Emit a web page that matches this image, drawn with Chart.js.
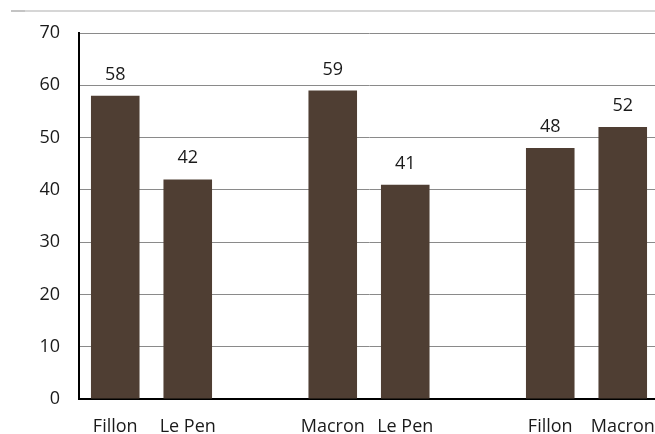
<!DOCTYPE html>
<html>
<head>
<meta charset="utf-8">
<script src="https://cdn.jsdelivr.net/npm/chart.js@4"></script>
<style>
    html, body { margin: 0; padding: 0; background: #fff; overflow: hidden; }
    #wrap { position: absolute; left: 0; top: 0; width: 700px; height: 434px; }
    .filet { position: absolute; top: 10px; left: 11px; width: 700px; height: 2px; background: #d6d6d6; }
    .filet span { position: absolute; left: 0; top: 0; width: 14px; height: 2px; background: #c4c4c4; }
</style>
</head>
<body>
<div class="filet"><span></span></div>
<div id="wrap"><canvas id="canvasSondage" width="700" height="434"></canvas></div>
<script>
// candidats par duel, case vide = séparation entre les duels
const candidats = ["Fillon", "Le Pen", "", "Macron", "Le Pen", "", "Fillon", "Macron"]
const scores = [58, 42, null, 59, 41, null, 48, 52]
const graduations = [0, 10, 20, 30, 40, 50, 60, 70]

const couleurBarre = "#4f3e33"
const police = "'Open Sans', 'Noto Sans', sans-serif"

// affiche la valeur au dessus de chaque barre
const etiquettes = {
    id: "etiquettes",
    afterDatasetsDraw(chart) {
        let ctx = chart.ctx
        let meta = chart.getDatasetMeta(0)
        ctx.save()
        ctx.font = "18px " + police
        ctx.fillStyle = "#1a1a1a"
        ctx.textAlign = "center"
        ctx.textBaseline = "alphabetic"
        meta.data.forEach((barre, i) => {
            if (scores[i] === null) return
            ctx.fillText(String(scores[i]), barre.x, barre.y - 16)
        })
        ctx.restore()
    }
}

let canvas = document.getElementById("canvasSondage")
new Chart(canvas, {
    type: "bar",
    data: {
        labels: candidats,
        datasets: [{
            data: scores,
            backgroundColor: couleurBarre,
            borderWidth: 0,
            categoryPercentage: 1,
            barPercentage: 0.67
        }]
    },
    options: {
        responsive: false,
        animation: false,
        // zone de tracé de 79 à 659 px, coupée à droite par la fenêtre
        layout: { padding: { top: 33, right: 41, left: 0, bottom: 0 } },
        plugins: {
            legend: { display: false },
            tooltip: { enabled: false }
        },
        scales: {
            x: {
                grid: { display: false },
                border: { color: "#000", width: 2 },
                ticks: {
                    color: "#1a1a1a",
                    font: { family: police, size: 18 },
                    padding: 9,
                    maxRotation: 0,
                    autoSkip: false
                },
                afterFit: (s) => { s.height = 35 }
            },
            y: {
                min: 0,
                max: 70,
                afterBuildTicks: (s) => { s.ticks = graduations.map(v => ({ value: v })) },
                grid: { color: "#8a8a8a", lineWidth: 1, drawTicks: false },
                border: { color: "#000", width: 2 },
                ticks: {
                    color: "#1a1a1a",
                    font: { family: police, size: 18 },
                    padding: 19
                },
                afterFit: (s) => { s.width = 79 }
            }
        }
    },
    plugins: [etiquettes]
})
</script>
</body>
</html>
